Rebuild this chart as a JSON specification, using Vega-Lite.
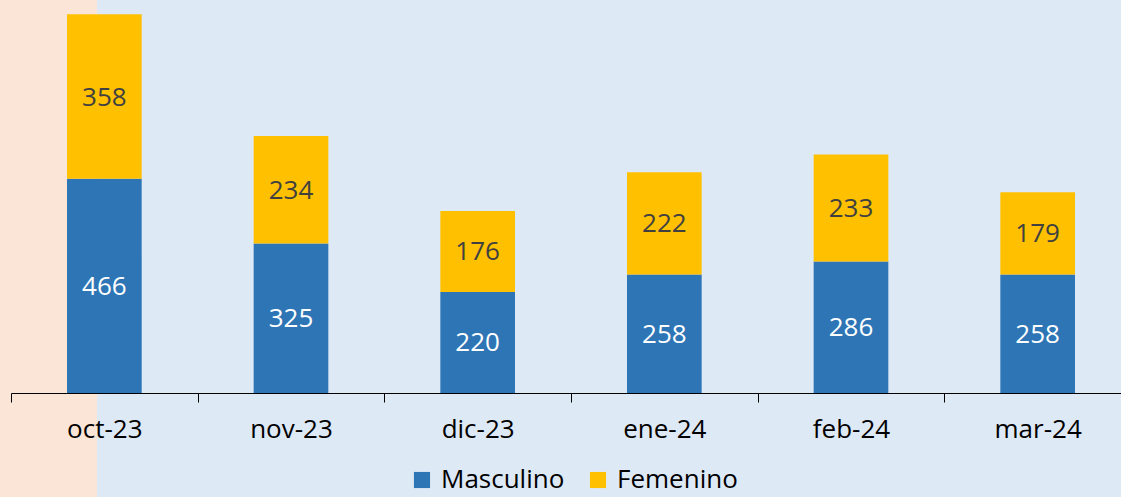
{
  "$schema": "https://vega.github.io/schema/vega-lite/v6.json",
  "width": 1121,
  "height": 497,
  "padding": 0,
  "autosize": {"type": "none"},
  "background": "#dee9f6",
  "config": {
    "view": {
      "stroke": null,
      "fill": {"gradient": "linear", "x1": 0, "x2": 1, "y1": 0, "y2": 0,
        "stops": [
          {"offset": 0, "color": "#fbe5d6"},
          {"offset": 0.0865, "color": "#fbe5d6"},
          {"offset": 0.0866, "color": "#dee9f6"},
          {"offset": 1, "color": "#dee9f6"}
        ]}
    },
    "font": "Open Sans"
  },
  "data": {
    "values": [
      {"mes": "oct-23", "sexo": "Masculino", "orden": 1, "valor": 466},
      {"mes": "oct-23", "sexo": "Femenino", "orden": 2, "valor": 358},
      {"mes": "nov-23", "sexo": "Masculino", "orden": 1, "valor": 325},
      {"mes": "nov-23", "sexo": "Femenino", "orden": 2, "valor": 234},
      {"mes": "dic-23", "sexo": "Masculino", "orden": 1, "valor": 220},
      {"mes": "dic-23", "sexo": "Femenino", "orden": 2, "valor": 176},
      {"mes": "ene-24", "sexo": "Masculino", "orden": 1, "valor": 258},
      {"mes": "ene-24", "sexo": "Femenino", "orden": 2, "valor": 222},
      {"mes": "feb-24", "sexo": "Masculino", "orden": 1, "valor": 286},
      {"mes": "feb-24", "sexo": "Femenino", "orden": 2, "valor": 233},
      {"mes": "mar-24", "sexo": "Masculino", "orden": 1, "valor": 258},
      {"mes": "mar-24", "sexo": "Femenino", "orden": 2, "valor": 179}
    ]
  },
  "transform": [
    {"stack": "valor", "groupby": ["mes"], "sort": [{"field": "orden"}], "as": ["v0", "v1"]},
    {"calculate": "(datum.v0 + datum.v1) / 2", "as": "vmid"}
  ],
  "encoding": {
    "x": {
      "field": "mes", "type": "nominal", "sort": null,
      "scale": {"range": [11, 1131], "paddingInner": 0.6, "paddingOuter": 0.3},
      "axis": {
        "title": null, "offset": -104, "domainColor": "#000000", "domainWidth": 1,
        "tickColor": "#000000", "tickSize": 9, "tickWidth": 1, "tickOffset": -93.3,
        "labelOffset": 93.3,
        "labelAngle": 0, "labelFontSize": 26, "labelColor": "#000000", "labelPadding": 14,
        "labelFont": "Open Sans"
      }
    }
  },
  "layer": [
    {
      "mark": {"type": "bar"},
      "encoding": {
        "y": {"field": "v0", "type": "quantitative", "scale": {"domain": [0, 855], "range": [393, 0]}, "axis": null},
        "y2": {"field": "v1"},
        "color": {
          "field": "sexo", "type": "nominal",
          "scale": {"domain": ["Masculino", "Femenino"], "range": ["#2e75b6", "#ffc000"]},
          "legend": {
            "title": null, "orient": "none", "direction": "horizontal",
            "legendX": 409, "legendY": 467, "symbolType": "square", "symbolSize": 260,
            "symbolStrokeWidth": 0, "labelFontSize": 26, "labelColor": "#000000",
            "labelFont": "Open Sans", "columnPadding": 20, "labelOffset": 6
          }
        }
      }
    },
    {
      "mark": {"type": "text", "fontSize": 26, "baseline": "middle", "align": "center", "dy": 1},
      "encoding": {
        "y": {"field": "vmid", "type": "quantitative", "scale": {"domain": [0, 855], "range": [393, 0]}, "axis": null},
        "text": {"field": "valor", "type": "quantitative"},
        "color": {
          "condition": {"test": "datum.sexo === 'Masculino'", "value": "#ffffff"},
          "value": "#404040"
        }
      }
    }
  ]
}
